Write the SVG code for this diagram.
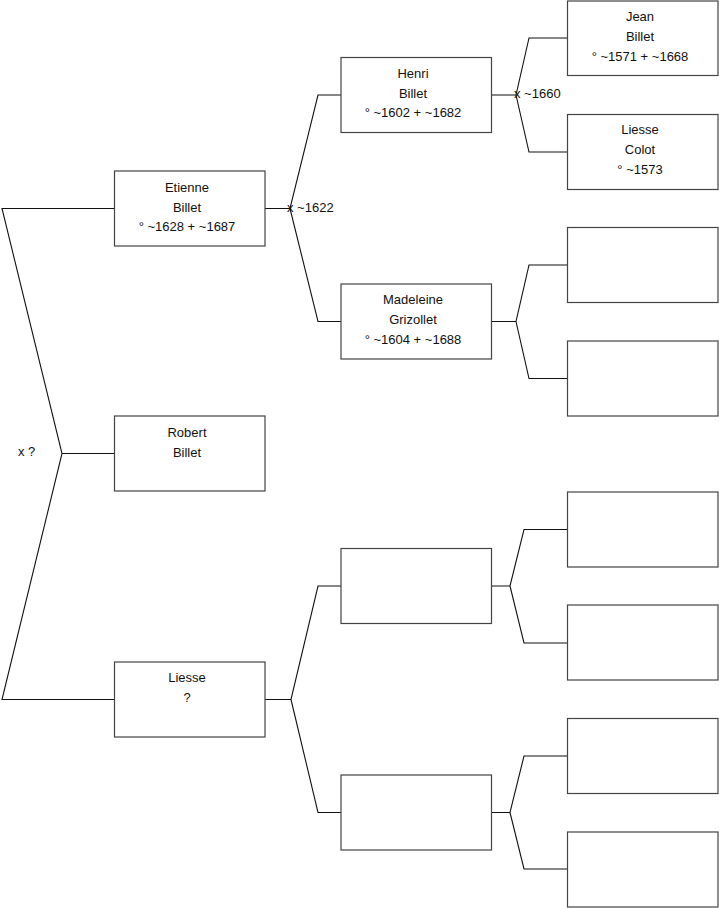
<svg xmlns="http://www.w3.org/2000/svg" width="719" height="908" viewBox="0 0 719 908">
<style>
.box{fill:#fff;stroke:#444;stroke-width:1.2}
.ln{fill:none;stroke:#111;stroke-width:1.1}
text{font-family:"Liberation Sans",Arial,sans-serif;font-size:13px;fill:#111}
.c{text-anchor:middle}
</style>
<rect width="719" height="908" fill="#fff"/>
<g id="connectors">
<path class="ln" d="M114,208.5H2L62,453.5L2,699.5H114M62,453.5H114"/>
<path class="ln" d="M265,208.5H290L318,95H341M290,208.5L318,321.5H341"/>
<path class="ln" d="M492,95H516L529,38H567M516,95L529,152H567"/>
<path class="ln" d="M492,321.5H516L529,265H567M516,321.5L529,378.5H567"/>
<path class="ln" d="M265,699.5H291L318,586H341M291,699.5L318,812.5H341"/>
<path class="ln" d="M492,586H510L524,529.5H567M510,586L524,643H567"/>
<path class="ln" d="M492,812.5H510L524,756H567M510,812.5L524,869H567"/>
<text x="287" y="211.5">x ~1622</text>
<text x="514" y="97.5">x ~1660</text>
<text x="18" y="456">x ?</text>
</g>
<g id="etienne"><rect class="box" x="114.5" y="171" width="150.5" height="75"/>
<text class="c" x="187" y="191.5">Etienne</text><text class="c" x="187" y="211.5">Billet</text><text class="c" x="187" y="231">° ~1628 + ~1687</text></g>
<g id="robert"><rect class="box" x="114.5" y="416" width="150.5" height="75"/>
<text class="c" x="187" y="437">Robert</text><text class="c" x="187" y="457">Billet</text></g>
<g id="liesse"><rect class="box" x="114.5" y="662" width="150.5" height="75"/>
<text class="c" x="187" y="682">Liesse</text><text class="c" x="187" y="702">?</text></g>
<g id="henri"><rect class="box" x="341" y="57.5" width="150.5" height="75"/>
<text class="c" x="413" y="77.5">Henri</text><text class="c" x="413" y="97.5">Billet</text><text class="c" x="413" y="117">° ~1602 + ~1682</text></g>
<g id="madeleine"><rect class="box" x="341" y="284" width="150.5" height="75"/>
<text class="c" x="413" y="304">Madeleine</text><text class="c" x="413" y="324">Grizollet</text><text class="c" x="413" y="344">° ~1604 + ~1688</text></g>
<g id="p3"><rect class="box" x="341" y="548.5" width="150.5" height="75"/></g>
<g id="p4"><rect class="box" x="341" y="775" width="150.5" height="75"/></g>
<g id="jean"><rect class="box" x="567.5" y="1" width="150.5" height="74.5"/>
<text class="c" x="640" y="21">Jean</text><text class="c" x="640" y="41">Billet</text><text class="c" x="640" y="60.5">° ~1571 + ~1668</text></g>
<g id="liessecolot"><rect class="box" x="567.5" y="114.5" width="150.5" height="75"/>
<text class="c" x="640" y="134">Liesse</text><text class="c" x="640" y="154">Colot</text><text class="c" x="640" y="174">° ~1573</text></g>
<g id="g3"><rect class="box" x="567.5" y="227.5" width="150.5" height="75"/></g>
<g id="g4"><rect class="box" x="567.5" y="341" width="150.5" height="75"/></g>
<g id="g5"><rect class="box" x="567.5" y="492" width="150.5" height="75"/></g>
<g id="g6"><rect class="box" x="567.5" y="605" width="150.5" height="75"/></g>
<g id="g7"><rect class="box" x="567.5" y="718.5" width="150.5" height="75"/></g>
<g id="g8"><rect class="box" x="567.5" y="832" width="150.5" height="75"/></g>
</svg>
